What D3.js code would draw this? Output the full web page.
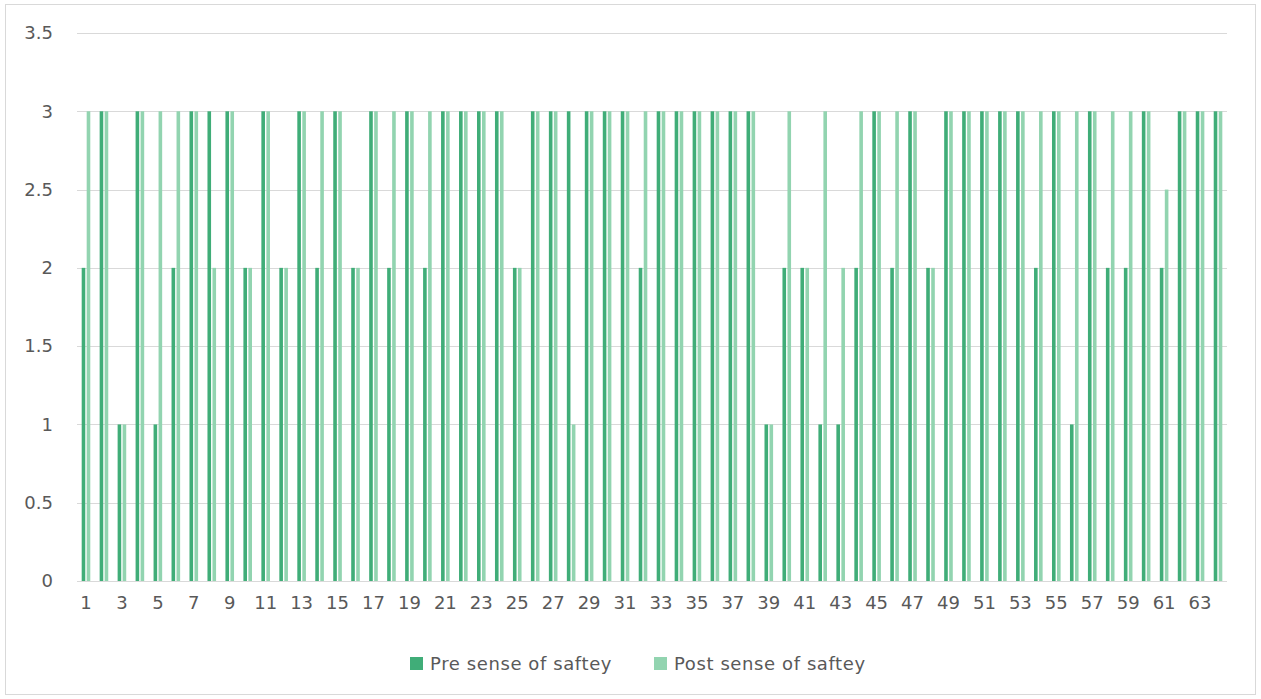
<!DOCTYPE html>
<html>
<head>
<meta charset="utf-8">
<script src="https://cdn.jsdelivr.net/npm/d3@7"></script>
<style>
  html, body { margin: 0; padding: 0; background: #fff; }
  svg { display: block; }
  text { font-family: "DejaVu Sans", sans-serif; fill: #595959; }
</style>
</head>
<body>
<svg id="chart" width="1261" height="699"></svg>
<script>
// Respondent numbers 1..64
const categories = d3.range(1, 65).map(String);

const seriesNames = ["Pre sense of saftey", "Post sense of saftey"];

const preSafety = [
  2, 3, 1, 3, 1, 2, 3, 3, 3, 2, 3, 2, 3, 2, 3, 2,
  3, 2, 3, 2, 3, 3, 3, 3, 2, 3, 3, 3, 3, 3, 3, 2,
  3, 3, 3, 3, 3, 3, 1, 2, 2, 1, 1, 2, 3, 2, 3, 2,
  3, 3, 3, 3, 3, 2, 3, 1, 3, 2, 2, 3, 2, 3, 3, 3
];

const postSafety = [
  3, 3, 1, 3, 3, 3, 3, 2, 3, 2, 3, 2, 3, 3, 3, 2,
  3, 3, 3, 3, 3, 3, 3, 3, 2, 3, 3, 1, 3, 3, 3, 3,
  3, 3, 3, 3, 3, 3, 1, 3, 2, 3, 2, 3, 3, 3, 3, 2,
  3, 3, 3, 3, 3, 3, 3, 3, 3, 3, 3, 3, 2.5, 3, 3, 3
];

const yTicks = [0, 0.5, 1, 1.5, 2, 2.5, 3, 3.5];
const xTickLabels = categories.filter((d, i) => i % 2 === 0);

const colors = ["#40ad78", "#92d4b0"];
const FONT = "'DejaVu Sans', sans-serif";
const FS = 18;

const svg = d3.select("#chart");
const W = 1261, H = 699;

// chart frame
svg.append("rect")
  .attr("x", 5.5).attr("y", 4.5)
  .attr("width", W - 11).attr("height", H - 9)
  .attr("fill", "#fff").attr("stroke", "#d9d9d9").attr("stroke-width", 1);

const plot = { left: 77, right: 1227, top: 33, bottom: 581 };

const y = d3.scaleLinear().domain([0, 3.5]).range([plot.bottom, plot.top]);

const x0 = d3.scaleBand().domain(categories).range([plot.left, plot.right]).padding(0);
const step = x0.step();
const x1 = d3.scaleBand().domain(seriesNames)
  .range([step / 2 - 4.3, step / 2 + 4.3]).paddingInner(0.28);

// gridlines
svg.append("g")
  .selectAll("line")
  .data(yTicks)
  .join("line")
  .attr("x1", plot.left).attr("x2", plot.right)
  .attr("y1", d => Math.round(y(d)) + 0.5).attr("y2", d => Math.round(y(d)) + 0.5)
  .attr("stroke", "#d9d9d9").attr("stroke-width", 1);

// y axis labels
const yAxis = d3.axisLeft(y).tickValues(yTicks).tickSize(0).tickPadding(0)
  .tickFormat(d => String(d));
svg.append("g")
  .attr("transform", `translate(53,0)`)
  .call(yAxis)
  .call(g => g.select(".domain").remove())
  .call(g => g.selectAll("text")
    .attr("font-size", FS).attr("fill", "#595959").attr("font-family", FONT));

// bars
const rows = categories.map((c, i) => ({ cat: c, values: [preSafety[i], postSafety[i]] }));

const groups = svg.append("g")
  .selectAll("g")
  .data(rows)
  .join("g")
  .attr("transform", d => `translate(${x0(d.cat)},0)`);

groups.selectAll("rect")
  .data(d => d.values.map((v, k) => ({ key: seriesNames[k], value: v, k })))
  .join("rect")
  .attr("x", d => x1(d.key))
  .attr("width", x1.bandwidth())
  .attr("y", d => y(d.value))
  .attr("height", d => y(0) - y(d.value))
  .attr("fill", d => colors[d.k]);

// x axis labels (every other category)
const xAxis = d3.axisBottom(x0).tickValues(xTickLabels).tickSize(0).tickPadding(0);
svg.append("g")
  .attr("transform", `translate(0,${plot.bottom + 15})`)
  .call(xAxis)
  .call(g => g.select(".domain").remove())
  .call(g => g.selectAll("text")
    .attr("font-size", FS).attr("fill", "#595959").attr("font-family", FONT));

// legend
const legend = svg.append("g").attr("transform", "translate(0,664)");
const legendX = [410, 654];
seriesNames.forEach((name, k) => {
  const g = legend.append("g").attr("transform", `translate(${legendX[k]},0)`);
  g.append("rect").attr("x", 0).attr("y", -7).attr("width", 13).attr("height", 13)
    .attr("fill", colors[k]);
  g.append("text").attr("x", 20).attr("y", 0).attr("dy", "0.35em")
    .attr("font-size", FS).attr("letter-spacing", 0.6)
    .attr("font-family", FONT).text(name);
});
</script>
</body>
</html>
